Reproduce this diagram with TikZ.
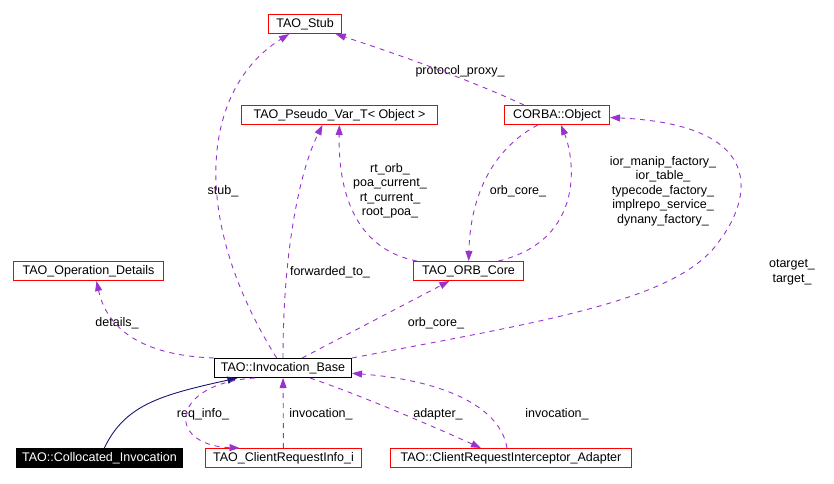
\documentclass[tikz,border=0pt]{standalone}
\usepackage{fontspec}
\setmainfont{Liberation Sans}
\usetikzlibrary{arrows.meta}
\definecolor{usecol}{HTML}{9A32CD}
\definecolor{inhcol}{HTML}{191970}

\begin{document}
\begin{tikzpicture}[x=1pt, y=-1pt,
    font=\fontsize{12.5}{14.5}\selectfont,
    cls/.style={rectangle, draw=red, line width=1pt, minimum height=19pt, inner sep=0pt},
    base/.style={cls, draw=black},
    cur/.style={cls, draw=black, fill=black, text=white},
    use/.style={draw=usecol, line width=0.9pt, dash pattern=on 5pt off 5pt, -{Triangle[length=10pt, width=7pt]}},
    inh/.style={draw=inhcol, line width=0.9pt, -{Triangle[length=10pt, width=7pt]}},
    lbl/.style={align=center, inner sep=0pt}]
    \useasboundingbox (0,0) rectangle (834,483);
    \node[cls, minimum width=73pt] (stub) at (305,24) {TAO\_Stub};
    \node[cls, minimum width=196pt] (pvar) at (339.5,115) {TAO\_Pseudo\_Var\_T< Object >};
    \node[cls, minimum width=105pt] (obj) at (557,115) {CORBA::Object};
    \node[cls, minimum width=150pt] (opd) at (88.5,271) {TAO\_Operation\_Details};
    \node[cls, minimum width=110pt] (orb) at (468.5,271) {TAO\_ORB\_Core};
    \node[base, minimum width=137pt] (ib) at (283,368) {TAO::Invocation\_Base};
    \node[cur, minimum width=166pt] (coll) at (99.5,458) {TAO::Collocated\_Invocation};
    \node[cls, minimum width=156pt] (cri) at (283.5,458) {TAO\_ClientRequestInfo\_i};
    \node[cls, minimum width=241pt] (ada) at (511,458) {TAO::ClientRequestInterceptor\_Adapter};
    \coordinate (bend) at (720,240);
    \foreach \nm/\px/\py/\txt in {pp/460/71/protocol\_proxy\_, st/223/191/stub\_,
        fw/330/272/forwarded\_to\_, rt/390/191/{rt\_orb\_\\poa\_current\_\\rt\_current\_\\root\_poa\_},
        oc/518/191/orb\_core\_,
        ior/663/191/{ior\_manip\_factory\_\\ior\_table\_\\typecode\_factory\_\\implrepo\_service\_\\dynany\_factory\_},
        tg/792/272/{otarget\_\\target\_}, dt/117/323/details\_, ocb/436/323/orb\_core\_,
        ri/203/414/req\_info\_, inv/321/414/invocation\_, ad/438/414/adapter\_, invr/557/414/invocation\_}
    {
        \node[lbl] (\nm) at (\px,\py) {\txt};
    }
    \draw[use] (ib) .. controls (190,220) and (200,90) .. (stub);
    \draw[use] ([xshift=-33pt]obj.north) .. controls (470,80) and (400,55) .. (stub);
    \draw[use] (ib) .. controls (283,250) and (300,170) .. ([xshift=-17pt]pvar.south);
    \draw[use] (orb) .. controls (360,250) and (338,200) .. (pvar);
    \draw[use] (obj) .. controls (490,150) and (470,200) .. (orb);
    \draw[use] ([xshift=30pt]orb.north) .. controls (585,240) and (575,160) .. (obj);
    \draw[use] (ib.north east) .. controls (550,320) and (680,300) .. (bend)
        .. controls (750,200) and (770,125) .. (obj);
    \draw[use] (ib) -- (orb);
    \draw[use] (ib.north west) .. controls (130,355) and (105,320) .. ([xshift=8pt]opd.south);
    \draw[inh] (coll) .. controls (125,405) and (160,395) .. (ib);
    \draw[use] ([xshift=-28pt]ib.south) .. controls (170,383) and (165,445) .. ([xshift=-44pt]cri.north);
    \draw[use] (cri) -- (ib);
    \draw[use] ([xshift=27pt]ib.south) .. controls (360,395) and (430,425) .. ([xshift=-30pt]ada.north);
    \draw[use] ([xshift=-4pt]ada.north) .. controls (500,405) and (440,380) .. (ib);
\end{tikzpicture}
\end{document}
